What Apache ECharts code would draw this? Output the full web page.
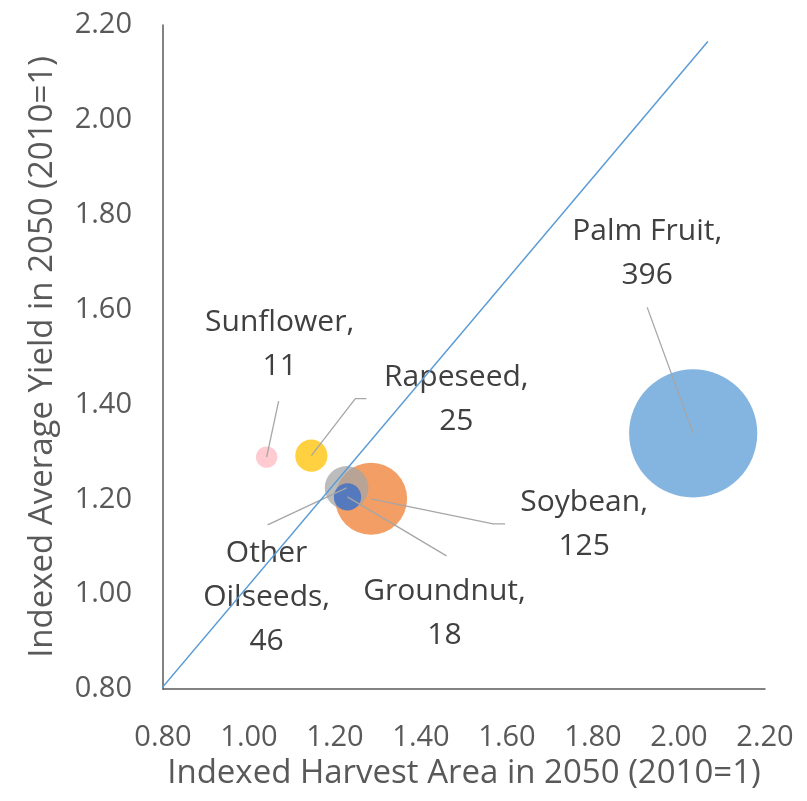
<!DOCTYPE html>
<html>
<head>
<meta charset="utf-8">
<script src="https://cdn.jsdelivr.net/npm/echarts@6/dist/echarts.min.js"></script>
<style>
  html, body { margin: 0; padding: 0; background: #fff; }
  #chart { width: 807px; height: 801px; }
</style>
</head>
<body>
<div id="chart"></div>
<script>
// 数据
const crops = ['Sunflower', 'Rapeseed', 'Soybean', 'Other Oilseeds', 'Groundnut', 'Palm Fruit']
const harvestArea = [1.041, 1.145, 1.284, 1.227, 1.229, 2.033]
const avgYield = [1.289, 1.292, 1.201, 1.224, 1.205, 1.339]
const bubbleSize = [11, 25, 125, 46, 18, 396]
const parityLine = [[0.786, 0.79], [2.067, 2.165]]

// 样式 / 标签位置（相对气泡中心的像素偏移）
const cropColors = ['#FFB8C0', '#FFC000', '#ED7D31', '#A5A5A5', '#4472C4', '#5B9BD5']
const labelShift = [[13, -113], [145, -56], [213, 26], [-80, 110], [97, 117], [-46, -180]]
const leaderStart = [
  [[12, -56]],
  [[55, -57], [44, -57]],
  [[134, 25], [122, 25]],
  [[-79, 37]],
  [[99, 59]],
  [[-46, -126]]
]

const chart = echarts.init(document.getElementById('chart'))

const bubbles = crops.map((name, i) => ({
  name: name,
  value: [harvestArea[i], avgYield[i], bubbleSize[i]],
  itemStyle: { color: cropColors[i], opacity: i === 4 ? 0.85 : 0.75 }
}))

const axisText = { color: '#595959', fontSize: 29, fontFamily: 'Open Sans' }
const nameText = { color: '#595959', fontSize: 33, fontFamily: 'Open Sans' }

// 数据标签 + 引导线
const renderLabel = function (params, api) {
  const i = api.value(2)
  const c = api.coord([api.value(0), api.value(1)])
  const pts = leaderStart[i].map(d => [c[0] + d[0], c[1] + d[1]])
  pts.push(c)
  const text = crops[i].replace('Other ', 'Other\n') + ',\n' + bubbleSize[i]
  return {
    type: 'group',
    children: [
      {
        type: 'polyline',
        shape: { points: pts },
        style: { stroke: '#A6A6A6', lineWidth: 1.3, fill: null }
      },
      {
        type: 'text',
        style: {
          text: text,
          x: c[0] + labelShift[i][0],
          y: c[1] + labelShift[i][1],
          fill: '#404040',
          fontSize: 30,
          fontFamily: 'Open Sans',
          lineHeight: 44,
          align: 'center',
          verticalAlign: 'middle'
        }
      }
    ]
  }
}

const option = {
  animation: false,
  grid: { left: 163, right: 42, top: 25, bottom: 112, outerBoundsMode: 'none' },
  xAxis: {
    type: 'value',
    min: 0.8,
    max: 2.2,
    interval: 0.2,
    name: 'Indexed Harvest Area in 2050 (2010=1)',
    nameLocation: 'middle',
    nameGap: 64,
    nameTextStyle: nameText,
    axisLine: { show: true, lineStyle: { color: '#595959', width: 1.5 } },
    axisTick: { show: false },
    splitLine: { show: false },
    axisLabel: Object.assign({ margin: 34, formatter: v => v.toFixed(2) }, axisText)
  },
  yAxis: {
    type: 'value',
    min: 0.8,
    max: 2.2,
    interval: 0.2,
    name: 'Indexed Average Yield in 2050 (2010=1)',
    nameLocation: 'middle',
    nameGap: 104,
    nameTextStyle: nameText,
    axisLine: { show: true, lineStyle: { color: '#595959', width: 1.5 } },
    axisTick: { show: false },
    splitLine: { show: false },
    axisLabel: Object.assign({ margin: 31, formatter: v => v.toFixed(2) }, axisText)
  },
  series: [
    {
      type: 'scatter',
      data: bubbles,
      symbolSize: val => 6.44 * Math.sqrt(val[2]),
      silent: true,
      z: 2
    },
    {
      type: 'custom',
      data: crops.map((n, i) => [harvestArea[i], avgYield[i], i]),
      encode: { x: 0, y: 1 },
      renderItem: renderLabel,
      silent: true,
      z: 3
    },
    {
      type: 'line',
      data: parityLine,
      symbol: 'none',
      clip: false,
      lineStyle: { color: '#5B9BD5', width: 1.5 },
      silent: true,
      z: 4
    }
  ]
}

chart.setOption(option)

window.addEventListener('resize', () => chart.resize())
</script>
</body>
</html>
